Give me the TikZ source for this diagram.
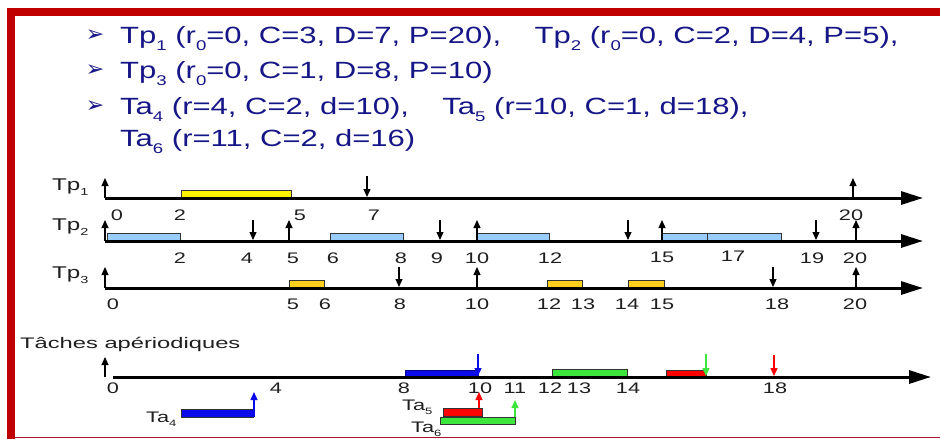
\documentclass[tikz,border=0pt]{standalone}
\usepackage{fontspec}
\setmainfont{Liberation Sans}
\newfontfamily\bulletfont{DejaVu Sans}
\usetikzlibrary{arrows.meta}
\definecolor{framered}{RGB}{192,0,0}
\definecolor{botred}{RGB}{170,20,50}
\definecolor{hdrblue}{RGB}{22,22,135}
\definecolor{ltblue}{RGB}{153,204,255}
\definecolor{gold}{RGB}{255,208,30}
\definecolor{ygreen}{RGB}{60,230,60}
\definecolor{pblue}{RGB}{10,10,235}
\newcommand\mysub[1]{\raisebox{-0.32em}{\scalebox{0.6}{#1}}}
\newcommand\hx[1]{\scalebox{1.32}[1]{#1}}
\newcommand\sx[1]{\scalebox{1.42}[1]{#1}}
\newcommand\hdrfont{\fontsize{23.5}{28}\selectfont}
\newcommand\numfont{\fontsize{15.3}{18}\selectfont}
\newcommand\tpfont{\fontsize{17}{20}\selectfont}
\begin{document}
\begin{tikzpicture}[x=1pt,y=-1pt,
  axis/.style={line width=3pt,-{Triangle[length=22pt,width=13pt]}},
  sarr/.style={line width=1.2pt,-{Triangle[length=8pt,width=7pt]}},
  bar/.style={draw=black!80,line width=0.8pt},
  num/.style={inner sep=0pt,font=\numfont,text=black!88},
  hdr/.style={anchor=base west,inner sep=0pt,text=hdrblue,font=\hdrfont},
  bul/.style={inner sep=0pt,text=hdrblue,font=\bulletfont\fontsize{22}{22}\selectfont},
  tlab/.style={anchor=base west,inner sep=0pt,font=\numfont,text=black!88},
  tplab/.style={anchor=base west,inner sep=0pt,font=\tpfont,text=black!88}]
\useasboundingbox (0,0) rectangle (940,439);
\fill[white] (0,0) rectangle (940,439);
% frame
\fill[framered] (7,8) rectangle (940,16);
\fill[framered] (7,8) rectangle (15,439);
\draw[botred,line width=1.5pt] (15,437.5) -- (940,437.5);
% header
\node[bul] (b1) at (95,36) {➢};
\node[bul] (b2) at (95,71) {➢};
\node[bul] (b3) at (95,107) {➢};
\node[hdr] (h1) at (120,43) {\hx{Tp\mysub{1} (r\mysub{0}=0, C=3, D=7, P=20),\hspace{0.8em} Tp\mysub{2} (r\mysub{0}=0, C=2, D=4, P=5),}};
\node[hdr] (h2) at (120,78) {\hx{Tp\mysub{3} (r\mysub{0}=0, C=1, D=8, P=10)}};
\node[hdr] (h3) at (120,114) {\hx{Ta\mysub{4} (r=4, C=2, d=10),\hspace{0.8em} Ta\mysub{5} (r=10, C=1, d=18),}};
\node[hdr] (h4) at (120,146) {\hx{Ta\mysub{6} (r=11, C=2, d=16)}};
% ---------- Tp1
\node[tplab] (l1) at (52,190) {\sx{Tp\mysub{1}}};
\fill[yellow] (181,190) rectangle (291,197);
\draw[bar] (181,197) -- (181,190) -- (291,190) -- (291,197);
\draw[axis] (105,198) -- (923,198);
\foreach \x in {105,853} \draw[sarr] (\x,198) -- (\x,178);
\foreach \x in {367} \draw[sarr] (\x,176) -- (\x,197);
\foreach \x/\lb [count=\i] in {117/0,180/2,300/5,374/7,851/20}
  \node[num] (a\i) at (\x,215) {\sx{\lb}};
% ---------- Tp2
\node[tplab] (l2) at (52,230) {\sx{Tp\mysub{2}}};
\foreach \a/\b in {107/180,330/403,477/549,662/707,707/781}{
  \fill[ltblue] (\a,233) rectangle (\b,240);
  \draw[bar] (\a,240) -- (\a,233) -- (\b,233) -- (\b,240);}
\draw[axis] (105,241) -- (923,241);
\foreach \x in {105,289,477,662,856} \draw[sarr] (\x,241) -- (\x,220);
\foreach \x in {253,440,628,816} \draw[sarr] (\x,220) -- (\x,240);
\foreach \x/\y/\lb [count=\i] in {180/258/2,247/258/4,293/258/5,333/258/6,401/258/8,437/258/9,477/258/10,550/258/12,662/257/15,733/256/17,812/258/19,855/258/20}
  \node[num] (c\i) at (\x,\y) {\sx{\lb}};
% ---------- Tp3
\node[tplab] (l3) at (52,278) {\sx{Tp\mysub{3}}};
\foreach \a/\b in {289/324,547/582,628/664}{
  \fill[gold] (\a,280) rectangle (\b,287);
  \draw[bar] (\a,287) -- (\a,280) -- (\b,280) -- (\b,287);}
\draw[axis] (105,288) -- (923,288);
\foreach \x in {105,477,856} \draw[sarr] (\x,288) -- (\x,267);
\foreach \x in {399,773} \draw[sarr] (\x,267) -- (\x,287);
\foreach \x/\lb [count=\i] in {113/0,293/5,325/6,400/8,477/10,549/12,583/13,627/14,662/15,777/18,855/20}
  \node[num] (d\i) at (\x,304) {\sx{\lb}};
% ---------- aperiodic
\node[tlab] (ap) at (20,348) {\scalebox{1.55}[1]{Tâches apériodiques}};
\draw[bar,fill=pblue,draw=pblue!60!black] (405,376) -- (405,370) -- (478,370) -- (478,376);
\draw[bar,fill=ygreen] (552,376) -- (552,369) -- (627,369) -- (627,376);
\draw[bar,fill=red] (666,376) -- (666,370) -- (706,370) -- (706,376);
\draw[axis] (113,377) -- (931,377);
\draw[sarr] (105,377) -- (105,357);
\draw[sarr,pblue] (478,354) -- (478,376);
\draw[sarr,ygreen] (706,354) -- (706,376);
\draw[sarr,red] (774,355) -- (774,376);
\foreach \x/\lb [count=\i] in {113/0,276/4,404/8,480/10,515/11,550/12,579/13,628/14,775/18}
  \node[num] (e\i) at (\x,388) {\sx{\lb}};
% Ta4
\draw[bar,fill=pblue] (181,409) rectangle (253,417);
\draw[sarr,pblue] (254,417) -- (254,392);
\node[tlab] (t4) at (146,422) {\sx{Ta\mysub{4}}};
% Ta5
\draw[bar,fill=red] (443,408) rectangle (482,416);
\draw[sarr,red] (479,408) -- (479,392);
\node[tlab] (t5) at (402,410) {\sx{Ta\mysub{5}}};
% Ta6
\draw[bar,fill=ygreen] (440,417) rectangle (515,424);
\draw[sarr,ygreen] (515,417) -- (515,400);
\node[tlab] (t6) at (411,432) {\sx{Ta\mysub{6}}};
\end{tikzpicture}
\end{document}
